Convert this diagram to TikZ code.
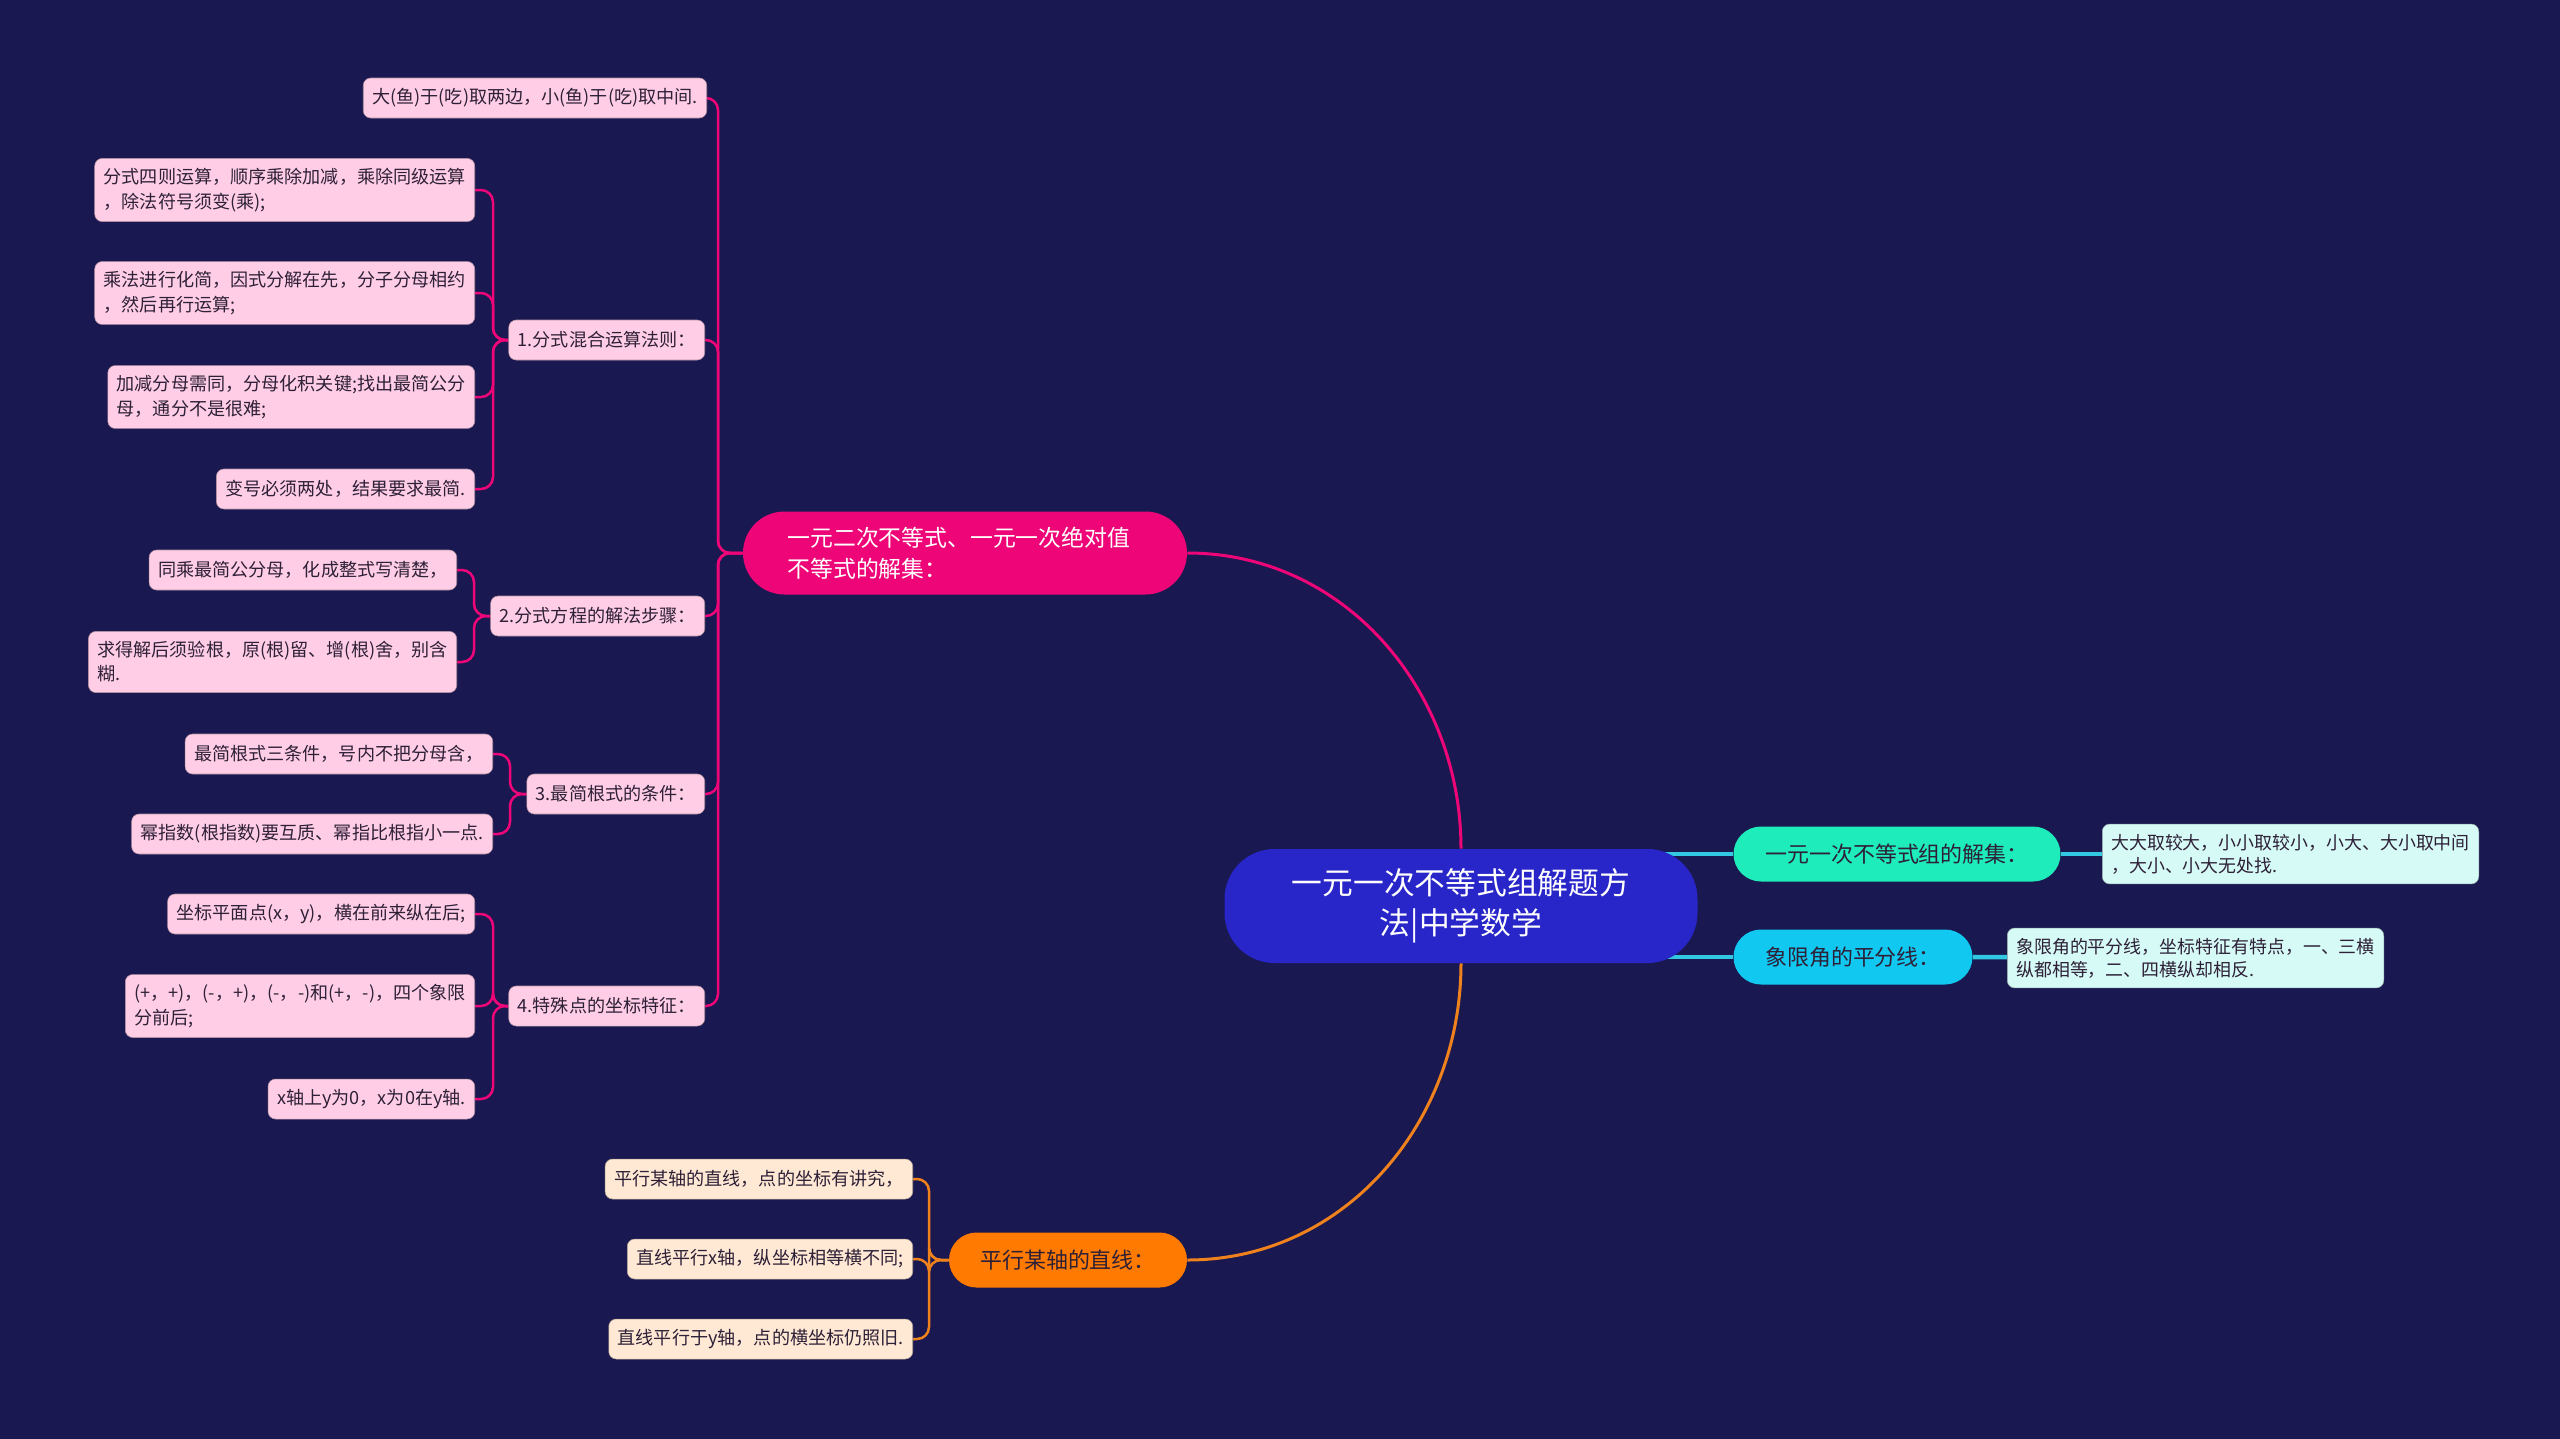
\documentclass[tikz,border=0pt]{standalone}
\usepackage{fontspec}
\setmainfont{Noto Sans CJK SC}
\usetikzlibrary{positioning}
\definecolor{fundo}{RGB}{26,24,80}
\definecolor{raizazul}{RGB}{40,38,200}
\definecolor{rosa}{RGB}{238,6,120}
\definecolor{rosaclaro}{RGB}{255,206,230}
\definecolor{verde}{RGB}{30,236,186}
\definecolor{ciano}{RGB}{16,200,240}
\definecolor{cianoclaro}{RGB}{214,250,246}
\definecolor{laranja}{RGB}{255,122,0}
\definecolor{laranjaclaro}{RGB}{255,233,212}
\definecolor{linhaciano}{RGB}{50,200,225}
\definecolor{linhalaranja}{RGB}{240,130,30}
\definecolor{tinta}{RGB}{45,32,55}
\pgfdeclarelayer{ligacoes}
\pgfsetlayers{ligacoes,main}

\begin{document}
\begin{tikzpicture}[x=0.2mm,y=-0.2mm,
        every node/.style={font=\fontsize{10.3}{13.8}\selectfont,text=tinta},
        raiz/.style={fill=raizazul,text=white,rounded corners=10mm,minimum width=94.6mm,
                     minimum height=22.8mm,align=center,font=\fontsize{17.5}{23}\selectfont},
        ramo/.style={fill=#1,rounded corners=5.5mm,minimum height=11mm,
                     font=\fontsize{12.5}{17}\selectfont},
        folha/.style={fill=#1,draw=#1!70!black,line width=0.3pt,rounded corners=1.5mm,
                      align=left,inner xsep=1.8mm,inner ysep=2mm,minimum height=8mm},
        folha/.default=rosaclaro,
        liga/.style={line width=0.5mm,rounded corners=2.4mm,#1},
        liga/.default=rosa]
      \useasboundingbox (0,0) rectangle (2560,1439);
      % centro e ramos principais
      \node[raiz] (raiz) at (1461,906) {一元一次不等式组解题方\\法|中学数学};
      \node[ramo=rosa,text=white,text width=71mm,inner xsep=8.9mm,rounded corners=8.3mm,
            minimum height=16.6mm,align=left,font=\fontsize{13}{17.6}\selectfont] (r1) at (965,553)
            {一元二次不等式、一元一次绝对值\\不等式的解集：};
      \node[ramo=verde,minimum width=65.4mm] (r2) at (1897,854) {一元一次不等式组的解集：};
      \node[ramo=ciano,minimum width=47.8mm] (r3) at (1853,957) {象限角的平分线：};
      \node[ramo=laranja,minimum width=47.6mm] (r4) at (1068,1260) {平行某轴的直线：};
      % folhas da direita
      \node[folha=cianoclaro,anchor=west,font=\fontsize{10.2}{13}\selectfont] (d1) at (2102,854)
            {大大取较大，小小取较小，小大、大小取中间\\，大小、小大无处找.};
      \node[folha=cianoclaro,anchor=west,font=\fontsize{10.2}{13}\selectfont] (d2) at (2007,958)
            {象限角的平分线，坐标特征有特点，一、三横\\纵都相等，二、四横纵却相反.};
      % ramo rosa
      \node[folha,anchor=east] (p0) at (707,98) {大(鱼)于(吃)取两边，小(鱼)于(吃)取中间.};
      \node[folha,anchor=east] (s1) at (705,340) {1.分式混合运算法则：};
      \node[folha,anchor=east] (s2) at (705,616) {2.分式方程的解法步骤：};
      \node[folha,anchor=east] (s3) at (705,794) {3.最简根式的条件：};
      \node[folha,anchor=east] (s4) at (705,1006) {4.特殊点的坐标特征：};
      \node[folha,anchor=east] (a1) at (475,190) {分式四则运算，顺序乘除加减，乘除同级运算\\，除法符号须变(乘);};
      \node[folha,anchor=east] (a2) at (475,293) {乘法进行化简，因式分解在先，分子分母相约\\，然后再行运算;};
      \node[folha,anchor=east] (a3) at (475,397) {加减分母需同，分母化积关键;找出最简公分\\母，通分不是很难;};
      \node[folha,anchor=east] (a4) at (475,489) {变号必须两处，结果要求最简.};
      \node[folha,anchor=east] (b1) at (457,570) {同乘最简公分母，化成整式写清楚，};
      \node[folha,anchor=east] (b2) at (457,662) {求得解后须验根，原(根)留、增(根)舍，别含\\糊.};
      \node[folha,anchor=east] (c1) at (493,754) {最简根式三条件，号内不把分母含，};
      \node[folha,anchor=east] (c2) at (493,834) {幂指数(根指数)要互质、幂指比根指小一点.};
      \node[folha,anchor=east] (e1) at (475,914) {坐标平面点(x，y)，横在前来纵在后;};
      \node[folha,anchor=east] (e2) at (475,1006) {(+，+)，(-，+)，(-，-)和(+，-)，四个象限\\分前后;};
      \node[folha,anchor=east] (e3) at (475,1099) {x轴上y为0，x为0在y轴.};
      % ramo laranja
      \node[folha=laranjaclaro,anchor=east] (f1) at (913,1179) {平行某轴的直线，点的坐标有讲究，};
      \node[folha=laranjaclaro,anchor=east] (f2) at (913,1259) {直线平行x轴，纵坐标相等横不同;};
      \node[folha=laranjaclaro,anchor=east] (f3) at (913,1339) {直线平行于y轴，点的横坐标仍照旧.};
      % troncos
      \coordinate (tr) at (718,553);
      \coordinate (t1) at (493,340);
      \coordinate (t2) at (474,616);
      \coordinate (t3) at (510,794);
      \coordinate (t4) at (493,1006);
      \coordinate (tl) at (929,1260);
      \begin{pgfonlayer}{ligacoes}
        \fill[fundo] (0,0) rectangle (2560,1439);
        \draw[liga,line width=0.6mm] (raiz.north) to[out=90,in=0] (r1.east);
        \draw[liga=linhalaranja,line width=0.6mm] (raiz.south) to[out=-90,in=0] (r4.east);
        \draw[liga=linhaciano,line width=0.9mm] (raiz.center |- r2.west) -- (r2.west);
        \draw[liga=linhaciano,line width=0.9mm] (raiz.center |- r3.west) -- (r3.west);
        \draw[liga=linhaciano,line width=0.9mm] (r2.east) -- (d1.west);
        \draw[liga=linhaciano,line width=0.9mm] (r3.east) -- (d2);
        \foreach \n in {p0,s1,s2,s3,s4} \draw[liga] (r1.west) -- (tr) |- (\n.east);
        \foreach \n in {a1,a2,a3,a4} \draw[liga] (s1.west) -- (t1) |- (\n.east);
        \foreach \n in {b1,b2} \draw[liga] (s2.west) -- (t2) |- (\n.east);
        \foreach \n in {c1,c2} \draw[liga] (s3.west) -- (t3) |- (\n.east);
        \foreach \n in {e1,e2,e3} \draw[liga] (s4.west) -- (t4) |- (\n.east);
        \foreach \n in {f1,f2,f3} \draw[liga=linhalaranja] (r4.west) -- (tl) |- (\n.east);
      \end{pgfonlayer}
    \end{tikzpicture}
\end{document}
